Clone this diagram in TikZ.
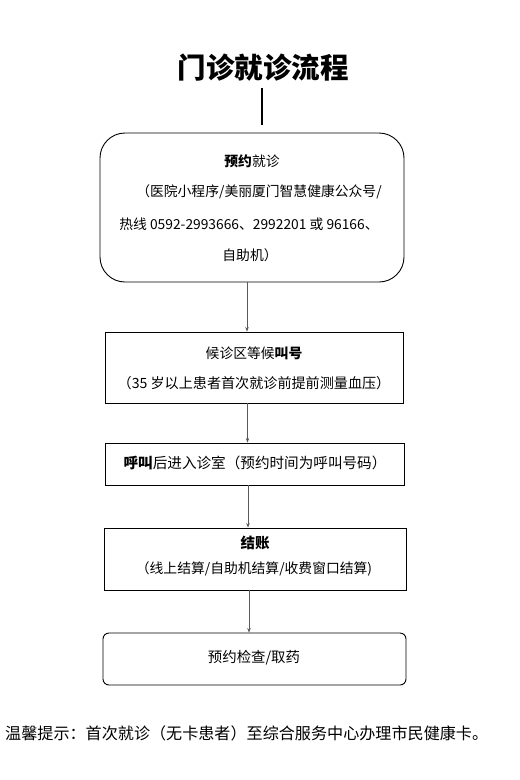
\documentclass[tikz,border=0pt]{standalone}
\usepackage{fontspec}
\setmainfont{Noto Sans CJK SC}
\usetikzlibrary{arrows.meta}
\begin{document}
\begin{tikzpicture}[x=1pt,y=-1pt,
  box/.style={draw=black,line width=0.9pt,minimum width=#1,inner sep=0pt},
  txt/.style={inner sep=0pt,font=\fontsize{13.8}{16}\selectfont},
  arr/.style={draw=black!65,line width=0.8pt,-{Stealth[length=4.5pt,width=3.5pt]}}]
\useasboundingbox[fill=white] (0,0) rectangle (520,780);
% title
\node[inner sep=0pt,font=\fontsize{28.5}{32}\selectfont\bfseries] (title) at (263,68) {门诊就诊流程};
\coordinate (ts) at (262,88);
\coordinate (te) at (262,125);
\draw[line width=2pt] (ts) -- (te);
% boxes
\node[box=304pt,minimum height=149pt,rounded corners=25pt] (b1) at (252,207.5) {};
\node[box=298pt,minimum height=71pt] (b2) at (254,367.5) {};
\node[box=299pt,minimum height=42pt] (b3) at (254.5,464) {};
\node[box=302pt,minimum height=62pt] (b4) at (255,559) {};
\node[box=303pt,minimum height=52pt,rounded corners=6pt] (b5) at (254.5,659) {};
% texts
\node[txt] (t11) at (252,161) {\textbf{预约}就诊};
\node[txt] (t12) at (259,192) {（医院小程序/美丽厦门智慧健康公众号/};
\node[txt] (t13) at (249,224) {热线 0592-2993666、2992201 或 96166、};
\node[txt] (t14) at (250,255) {自助机）};
\node[txt] (t21) at (254,353) {候诊区等候\textbf{叫号}};
\node[txt,font=\fontsize{14.1}{16}\selectfont] (t22) at (254,383) {（35 岁以上患者首次就诊前提前测量血压）};
\node[txt,font=\fontsize{14.6}{16}\selectfont] (t31) at (255,463) {\textbf{呼叫}后进入诊室（预约时间为呼叫号码）};
\node[txt,font=\fontsize{14.5}{16}\selectfont] (t41) at (255,543) {\textbf{结账}};
\node[txt] (t42) at (254,569) {（线上结算/自助机结算/收费窗口结算)};
\node[txt,font=\fontsize{14.4}{16}\selectfont] (t51) at (254,658) {预约检查/取药};
% footer
\node[txt,anchor=west,font=\fontsize{16.1}{18}\selectfont] (foot) at (5,733) {温馨提示：首次就诊（无卡患者）至综合服务中心办理市民健康卡。};
% arrows
\draw[arr] ([xshift=-5pt]b1.south) -- ([xshift=-5pt]b1.south |- b2.north);
\draw[arr] ([xshift=-6.5pt]b2.south) -- ([xshift=-6.5pt]b2.south |- b3.north);
\draw[arr] ([xshift=-6.5pt]b3.south) -- ([xshift=-6.5pt]b3.south |- b4.north);
\draw[arr] ([xshift=-6pt]b4.south) -- ([xshift=-6pt]b4.south |- b5.north);
\end{tikzpicture}
\end{document}
